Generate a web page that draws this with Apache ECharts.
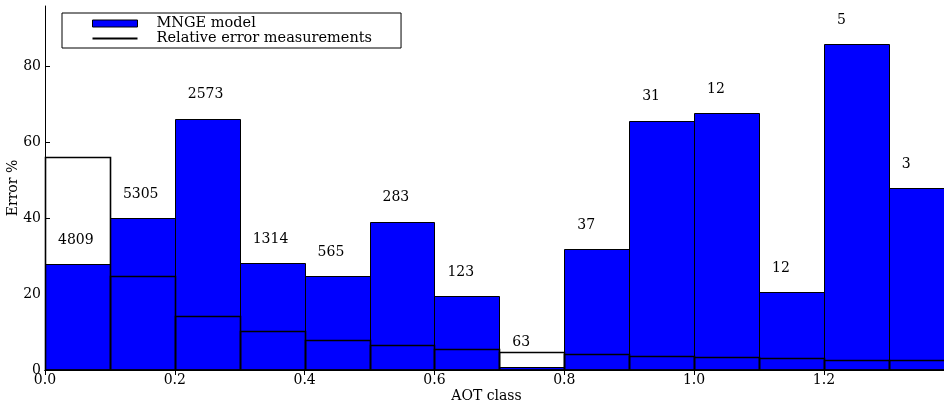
<!DOCTYPE html>
<html>
<head>
<meta charset="utf-8">
<script src="https://cdn.jsdelivr.net/npm/echarts@6/dist/echarts.min.js"></script>
<style>
  html, body { margin: 0; padding: 0; background: #fff; }
  #main { width: 944px; height: 405px; }
</style>
</head>
<body>
<div id="main"></div>
<script>
// AOT class bins (left edge, width 0.1)
var binStarts = [0.0, 0.1, 0.2, 0.3, 0.4, 0.5, 0.6, 0.7, 0.8, 0.9, 1.0, 1.1, 1.2, 1.3];
var binWidth = 0.1;
// MNGE model error %
var mngeModel = [28.0, 40.0, 66.3, 28.2, 24.8, 39.1, 19.4, 0.9, 31.9, 65.8, 67.7, 20.5, 86.0, 48.0];
// relative error measurements %
var relativeError = [56.3, 24.8, 14.3, 10.3, 7.8, 6.6, 5.5, 4.8, 4.1, 3.6, 3.35, 3.1, 2.7, 2.6];
// number of samples per class
var counts = [4809, 5305, 2573, 1314, 565, 283, 123, 63, 37, 31, 12, 12, 5, 3];

var FONT = 'DejaVu Serif';

var chartDom = document.getElementById('main');
var myChart = echarts.init(chartDom);

var blueData = binStarts.map(function (x, i) { return [x, x + binWidth, mngeModel[i]]; });
var lineData = binStarts.map(function (x, i) { return [x, x + binWidth, relativeError[i]]; });
var labelData = binStarts.map(function (x, i) { return [x + 0.02, mngeModel[i] + 5, counts[i]]; });

function rectItem(params, api, style) {
  var p0 = api.coord([api.value(0), api.value(2)]);
  var p1 = api.coord([api.value(1), 0]);
  var shape = echarts.graphic.clipRectByRect({
    x: Math.round(p0[0]) + 0.5,
    y: Math.round(p0[1]) + 0.5,
    width: Math.round(p1[0]) - Math.round(p0[0]),
    height: Math.round(p1[1]) - Math.round(p0[1])
  }, {
    x: params.coordSys.x,
    y: params.coordSys.y,
    width: params.coordSys.width + 10,
    height: params.coordSys.height
  });
  return shape && { type: 'rect', shape: shape, style: style };
}

var option = {
  animation: false,
  backgroundColor: '#fff',
  textStyle: { fontFamily: FONT },
  grid: { left: 45, right: 0, top: 6, bottom: 35, containLabel: false, outerBoundsMode: 'none' },
  legend: {
    left: 62, top: 13,
    orient: 'vertical',
    padding: [3, 29, 2, 30],
    itemGap: 0,
    itemWidth: 45,
    itemHeight: 7,
    borderColor: '#000',
    borderWidth: 1,
    borderRadius: 0,
    textStyle: { fontFamily: FONT, fontSize: 14.5, color: '#000', lineHeight: 13, padding: [0, 0, 0, 14] },
    data: [
      { name: 'MNGE model', icon: 'rect', itemStyle: { color: '#0000ff', borderColor: '#000', borderWidth: 1 } },
      { name: 'Relative error measurements', icon: 'path://M0,0H45V2H0Z', itemStyle: { color: '#000' } }
    ]
  },
  xAxis: [{
    type: 'value', min: 0, max: 1.385, interval: 0.2,
    name: 'AOT class', nameLocation: 'middle', nameGap: 19, nameMoveOverlap: false,
    nameTextStyle: { fontFamily: FONT, fontSize: 14, color: '#000', padding: [0, 16, 0, 0] },
    axisLine: { show: true, onZero: false, lineStyle: { color: '#000', width: 1 } },
    axisTick: { show: true, inside: true, length: 5, lineStyle: { color: '#000' } },
    axisLabel: { fontFamily: FONT, fontSize: 14, color: '#000', margin: 3, showMaxLabel: false,
      formatter: function (v) { return v.toFixed(1); } },
    splitLine: { show: false }
  }, {
    type: 'value', position: 'top', min: 0, max: 1.385, interval: 0.2,
    axisLine: { show: true, lineStyle: { color: '#000', width: 1 } },
    axisTick: { show: true, inside: true, length: 5, lineStyle: { color: '#000' } },
    axisLabel: { show: false },
    splitLine: { show: false }
  }],
  yAxis: {
    type: 'value', min: 0, max: 96, interval: 20,
    name: 'Error %', nameLocation: 'middle', nameGap: 25, nameRotate: 90, nameMoveOverlap: false,
    nameTextStyle: { fontFamily: FONT, fontSize: 14, color: '#000' },
    axisLine: { show: true, lineStyle: { color: '#000', width: 1 } },
    axisTick: { show: true, inside: true, length: 5, lineStyle: { color: '#000' } },
    axisLabel: { fontFamily: FONT, fontSize: 14, color: '#000', margin: 4, showMaxLabel: false },
    splitLine: { show: false }
  },
  series: [{
    name: 'MNGE model',
    type: 'custom',
    itemStyle: { color: '#0000ff' },
    renderItem: function (params, api) {
      return rectItem(params, api, { fill: '#0000ff', stroke: '#000', lineWidth: 1 });
    },
    encode: { x: [0, 1], y: 2 },
    data: blueData,
    z: 2
  }, {
    name: 'Relative error measurements',
    type: 'custom',
    itemStyle: { color: '#000' },
    renderItem: function (params, api) {
      return rectItem(params, api, { fill: null, stroke: '#000', lineWidth: 1.6 });
    },
    encode: { x: [0, 1], y: 2 },
    data: lineData,
    z: 3
  }, {
    name: 'counts',
    type: 'custom',
    renderItem: function (params, api) {
      var p = api.coord([api.value(0), api.value(1)]);
      return {
        type: 'text',
        x: p[0], y: p[1] - 5,
        style: {
          text: String(api.value(2)),
          fontFamily: FONT, fontSize: 14, fill: '#000',
          align: 'left', verticalAlign: 'middle'
        }
      };
    },
    encode: { x: 0, y: 1 },
    data: labelData,
    z: 4
  }]
};

option && myChart.setOption(option);
</script>
</body>
</html>
